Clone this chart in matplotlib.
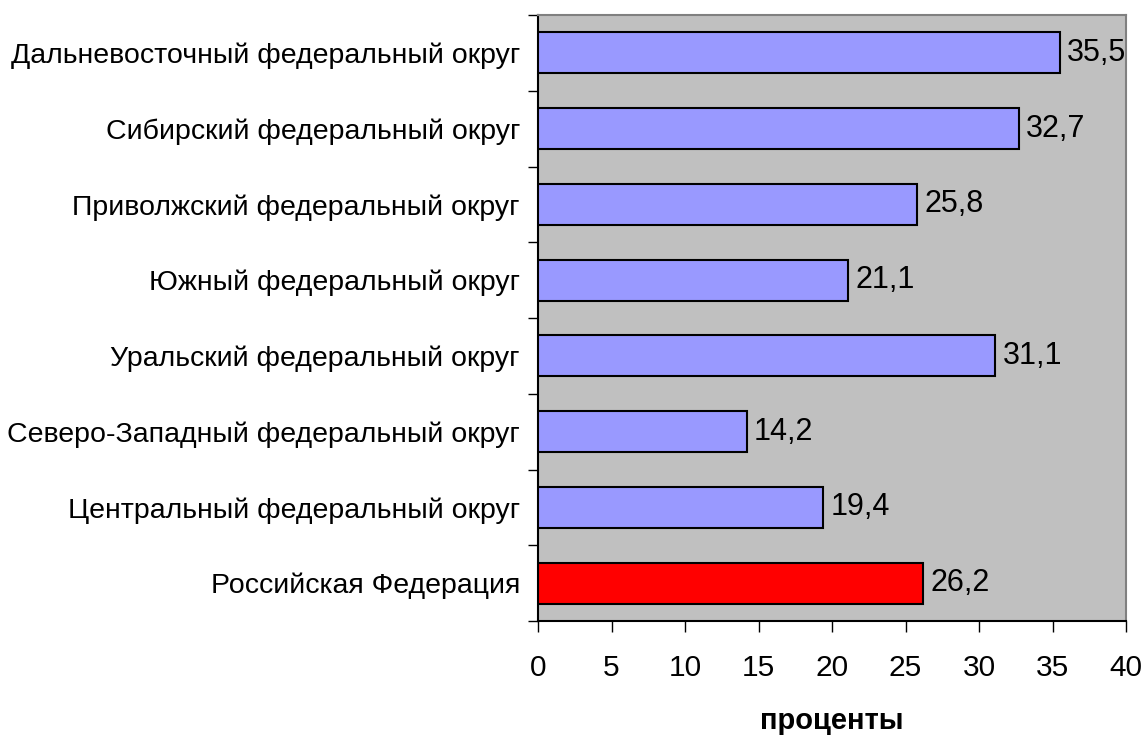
import matplotlib
matplotlib.use("Agg")
import matplotlib.pyplot as plt

categories = [
    "Российская Федерация",
    "Центральный федеральный округ",
    "Северо-Западный федеральный округ",
    "Уральский федеральный округ",
    "Южный федеральный округ",
    "Приволжский федеральный округ",
    "Сибирский федеральный округ",
    "Дальневосточный федеральный округ",
]
values = [26.2, 19.4, 14.2, 31.1, 21.1, 25.8, 32.7, 35.5]
colors = ["#FF0000"] + ["#9999FF"] * 7
x_ticks = [0, 5, 10, 15, 20, 25, 30, 35, 40]
x_label = "проценты"

plt.rcParams['font.family'] = ['Liberation Sans', 'DejaVu Sans']

fig = plt.figure(figsize=(11.46, 7.36), dpi=100)
ax = fig.add_axes([538/1146, 1-621/736, (1126-538)/1146, (621-15)/736])
ax.set_facecolor("#C0C0C0")

pos = list(range(len(categories)))
ax.barh(pos, values, height=0.54, color=colors, edgecolor="black", linewidth=1.5, zorder=3)
for p, v in zip(pos, values):
    ax.text(v + 0.5, p, f"{v:.1f}".replace(".", ","), va="center", ha="left", fontsize=22)

ax.set_xlim(0, 40)
ax.set_ylim(-0.5, len(categories) - 0.5)
ax.set_xticks(x_ticks)
ax.set_xticklabels([str(t) for t in x_ticks], fontsize=21.5)
ax.set_yticks(pos)
ax.set_yticklabels(categories, fontsize=20.5)
ax.tick_params(axis="y", length=0, pad=13)
ax.set_yticks([i - 0.5 for i in range(len(categories) + 1)], minor=True)
ax.tick_params(axis="y", which="minor", length=7, width=1, color="black")
ax.tick_params(axis="x", length=8, width=1, color="black", pad=16)
ax.set_xlabel(x_label, fontsize=21, fontweight="bold", labelpad=18)
for s in ax.spines.values():
    s.set_color("#808080")
    s.set_linewidth(1.5)
ax.spines["left"].set_color("black")
ax.spines["bottom"].set_color("black")

fig.savefig("out.png", dpi=100)
